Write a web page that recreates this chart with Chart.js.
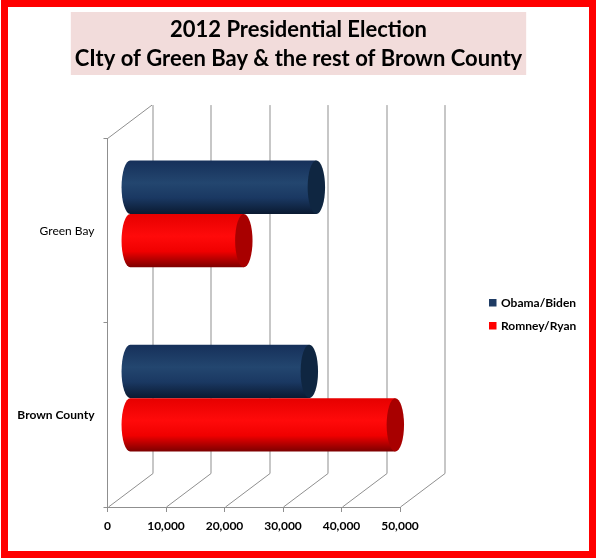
<!DOCTYPE html>
<html>
<head>
<meta charset="utf-8">
<script src="https://cdn.jsdelivr.net/npm/chart.js@4.4.1/dist/chart.umd.min.js"></script>
<style>
  html, body { margin: 0; padding: 0; background: #fff; }
  #wrap { position: relative; width: 597px; height: 558px; overflow: hidden; }
  #frame { position: absolute; left: 1px; top: 0; width: 595px; height: 558px; box-sizing: border-box; border: 7px solid #ff0000; pointer-events: none; }
  canvas { position: absolute; left: 0; top: 0; }
</style>
</head>
<body>
<div id="wrap">
  <canvas id="chart" width="597" height="558"></canvas>
  <div id="frame"></div>
</div>
<script>
// data
const categories = ['Green Bay', 'Brown County'];
const seriesNames = ['Obama/Biden', 'Romney/Ryan'];
const obamaVotes = [31900, 30700];
const romneyVotes = [19500, 45400];
const xTicks = [0, 10000, 20000, 30000, 40000, 50000];
const titleLines = ['2012 Presidential Election', 'CIty of Green Bay & the rest of Brown County'];

// fake 3D depth of the plot box
const DX = 44.5, DY = -33.5, RX = 8.7;
const GRID = '#8f8f8f';
const TITLE_FONT = 'bold 22px Lato';

const cylStyle = [
    { stops: ['#16305a', '#23466f', '#1a3862', '#0a1a31'], cap: '#0f2641', legend: '#1f3c64' },
    { stops: ['#e60000', '#ff0a0a', '#f00000', '#7c0000'], cap: '#a80000', legend: '#ff0000' }
];

const titleBox = {
    id: 'titleBox',
    beforeDraw(chart) {
        const ctx = chart.ctx;
        ctx.save();
        ctx.font = TITLE_FONT;
        const w = Math.max(...titleLines.map(t => ctx.measureText(t).width)) + 8;
        const cx = chart.width / 2;
        ctx.fillStyle = '#f2dcdb';
        ctx.fillRect(cx - w / 2, 12, w, 63);
        ctx.restore();
    }
};

const walls = {
    id: 'walls',
    beforeDatasetsDraw(chart) {
        const ctx = chart.ctx, x = chart.scales.x, a = chart.chartArea;
        ctx.save();
        ctx.strokeStyle = GRID;
        ctx.lineWidth = 1;
        ctx.beginPath();
        xTicks.forEach(v => {
            const px = Math.round(x.getPixelForValue(v)) + 0.5;
            ctx.moveTo(px, a.bottom);
            ctx.lineTo(px + DX, a.bottom + DY);
            ctx.lineTo(px + DX, a.top + DY);
        });
        ctx.moveTo(a.left, a.top);
        ctx.lineTo(a.left + DX, a.top + DY);
        ctx.stroke();
        ctx.restore();
    },
    beforeDatasetDraw() {
        return false; // bars are drawn as cylinders below
    },
    afterDatasetsDraw(chart) {
        const ctx = chart.ctx;
        ctx.save();
        chart.data.datasets.forEach((ds, i) => {
            const st = cylStyle[i];
            chart.getDatasetMeta(i).data.forEach(bar => {
                const p = bar.getProps(['x', 'y', 'base', 'height'], true);
                const h = p.height, top = p.y - h / 2 + DY / 2;
                const x0 = p.base + DX / 2, x1 = p.x + DX / 2;
                const cy = top + h / 2, ry = h / 2;
                const g = ctx.createLinearGradient(0, top, 0, top + h);
                g.addColorStop(0, st.stops[0]);
                g.addColorStop(0.42, st.stops[1]);
                g.addColorStop(0.7, st.stops[2]);
                g.addColorStop(1, st.stops[3]);
                ctx.fillStyle = g;
                ctx.beginPath();
                ctx.moveTo(x1, top);
                ctx.lineTo(x0, top);
                ctx.ellipse(x0, cy, RX, ry, 0, -Math.PI / 2, Math.PI / 2, true);
                ctx.lineTo(x1, top + h);
                ctx.closePath();
                ctx.fill();
                ctx.fillStyle = st.cap;
                ctx.beginPath();
                ctx.ellipse(x1, cy, RX, ry, 0, 0, Math.PI * 2);
                ctx.fill();
            });
        });
        ctx.restore();
    },
    afterDraw(chart) {
        // legend on the right
        const ctx = chart.ctx;
        ctx.save();
        ctx.font = 'bold 12px Lato';
        ctx.textBaseline = 'middle';
        chart.data.datasets.forEach((ds, i) => {
            const y = 303 + i * 23;
            ctx.fillStyle = cylStyle[i].legend;
            ctx.fillRect(489, y - 4, 7.5, 7.5);
            ctx.fillStyle = '#000';
            ctx.fillText(ds.label, 501, y);
        });
        ctx.restore();
    }
};

new Chart(document.getElementById('chart'), {
    type: 'bar',
    data: {
        labels: categories,
        datasets: [
            { label: seriesNames[0], data: obamaVotes, backgroundColor: cylStyle[0].legend },
            { label: seriesNames[1], data: romneyVotes, backgroundColor: cylStyle[1].legend }
        ]
    },
    options: {
        indexAxis: 'y',
        responsive: false,
        animation: false,
        devicePixelRatio: 1,
        categoryPercentage: 0.58,
        barPercentage: 1,
        layout: { padding: 0 },
        plugins: {
            legend: { display: false },
            tooltip: { enabled: false },
            title: {
                display: true,
                text: titleLines,
                color: '#000',
                font: { family: 'Lato', size: 22, weight: 'bold', lineHeight: 1.32 },
                padding: { top: 15.5, bottom: 65 }
            }
        },
        scales: {
            x: {
                min: xTicks[0],
                max: xTicks[xTicks.length - 1],
                ticks: {
                    stepSize: xTicks[1] - xTicks[0],
                    color: '#000',
                    padding: 7,
                    font: { family: 'Lato', size: 12, weight: 'bold' },
                    callback: v => v.toLocaleString('en-US')
                },
                grid: { drawOnChartArea: false, tickLength: 5, color: GRID },
                border: { display: true, color: GRID },
                afterFit: s => { s.height = 51; }
            },
            y: {
                ticks: {
                    color: '#000',
                    padding: 9,
                    font: ctx => ({ family: 'Lato', size: 12, weight: ctx.index === 1 ? 'bold' : 'normal' })
                },
                grid: { drawOnChartArea: false, tickLength: 4, color: GRID },
                border: { display: true, color: GRID },
                afterFit: s => { s.width = 107.5; }
            },
            // empty right-hand box that keeps room for the legend
            side: {
                type: 'linear',
                position: 'right',
                ticks: { display: false },
                grid: { display: false },
                border: { display: false },
                afterFit: s => { s.width = 197; }
            }
        }
    },
    plugins: [titleBox, walls]
});
</script>
</body>
</html>
